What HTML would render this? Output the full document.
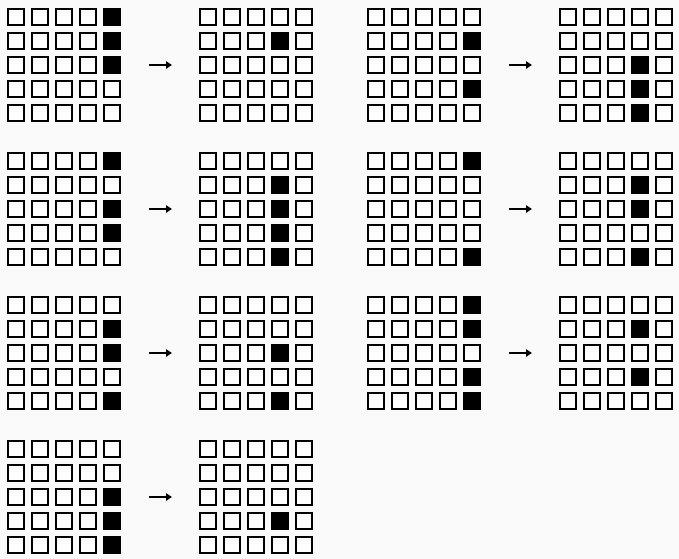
<!DOCTYPE html>
<html><head><meta charset="utf-8"><style>
html,body{margin:0;padding:0;background:#fafafa;width:679px;height:559px;overflow:hidden;position:relative}
.s{position:absolute;width:18px;height:18px;box-sizing:border-box;border:2px solid #000;background:#fff}
.f{background:#000}
.a{position:absolute;width:22px;height:2px;background:#000}
.a:after{content:"";position:absolute;right:-1px;top:-3px;border-left:6px solid #000;border-top:4px solid transparent;border-bottom:4px solid transparent}
</style></head><body>
<script>
var ys=[8,152,296,440];
var pairs=[
[0,0,[1,2,3],[2]],[0,1,[2,4],[3,4,5]],
[1,0,[1,3,4],[2,3,4,5]],[1,1,[1,5],[2,3,5]],
[2,0,[2,3,5],[3,5]],[2,1,[1,2,4,5],[2,4]],
[3,0,[3,4,5],[4]]];
var h='';
function grid(x,y,col,rows){
 for(var r=0;r<5;r++)for(var c=0;c<5;c++){
  var f=(c==col&&rows.indexOf(r+1)>=0);
  h+='<div class="s'+(f?' f':'')+'" style="left:'+(x+c*24)+'px;top:'+(y+r*24)+'px"></div>';
 }
}
pairs.forEach(function(p){
 var y=ys[p[0]];var lx=p[1]?367:7, rx=p[1]?559:199, ax=p[1]?509:149;
 grid(lx,y,4,p[2]);grid(rx,y,3,p[3]);
 h+='<div class="a" style="left:'+ax+'px;top:'+(y+56)+'px"></div>';
});
document.write(h);
</script>
</body></html>
